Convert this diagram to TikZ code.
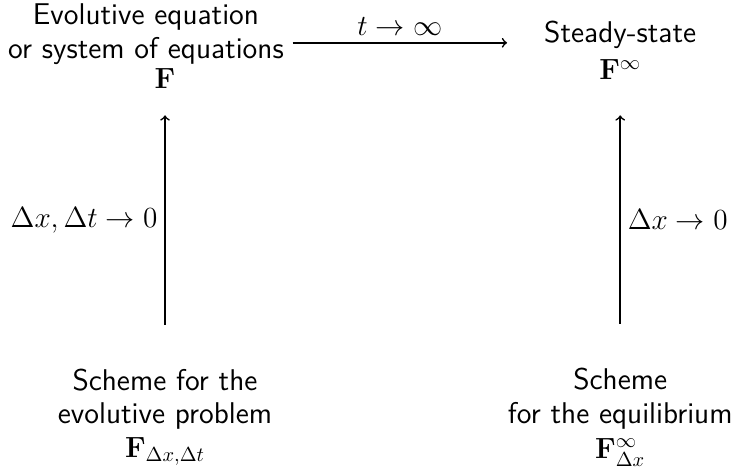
\documentclass[tikz,border=0pt]{standalone}
\usepackage{amsmath}
\usetikzlibrary{positioning}

\begin{document}
\begin{tikzpicture}[
  every node/.style={align=center,font=\fontsize{14.8}{16.5}\selectfont\sffamily},
  lbl/.style={font=\fontsize{14.4}{17}\selectfont},
  arr/.style={->,thick}
]
\useasboundingbox (-2.86,1.352) rectangle (9.81,-6.83);
\node (f) at (0,0) {$\mathbf{F}$};
\node (evol) at (-0.33,0.76) {Evolutive equation\\or system of equations};
\node (steady) at (7.89,0.48) {Steady-state\\[2pt]$\mathbf{F}^{\infty}$};
\node (schemeevol) at (0,-5.88) {Scheme for the\\evolutive problem\\$\mathbf{F}_{\Delta x,\Delta t}$};
\node (schemeeq) at (7.89,-5.88) {Scheme\\for the equilibrium\\[1pt]$\mathbf{F}^{\infty}_{\Delta x}$};

\draw[arr] ([xshift=0.03cm,yshift=-0.15cm]evol.east) -- node[lbl,above]{$t\to\infty$} ([xshift=-0.52cm,yshift=-0.15cm]evol.east -| steady.west);
\draw[arr] ([yshift=0.64cm]schemeevol.north) -- node[lbl,left]{$\Delta x,\Delta t\to 0$} ([yshift=-0.35cm]f.south);
\draw[arr] ([yshift=0.64cm]schemeeq.north) -- node[lbl,right]{$\Delta x\to 0$} ([yshift=-0.35cm]schemeeq.north |- f.south);
\end{tikzpicture}
\end{document}
